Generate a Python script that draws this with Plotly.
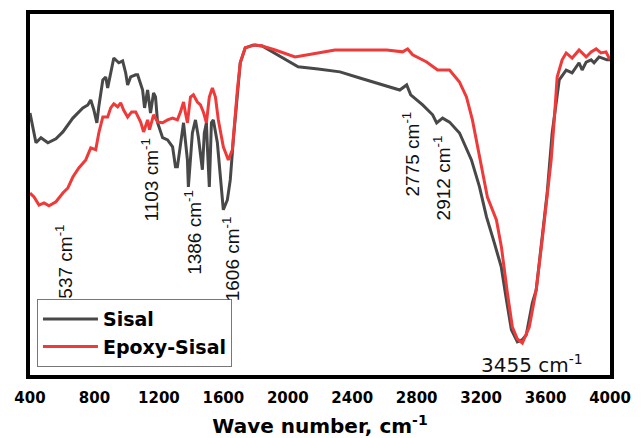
import plotly.graph_objects as go

# Sisal (grey) spectrum: wavenumber (cm-1) and transmittance (a.u.)
sisal_wn = [400, 437, 468, 511, 561, 604, 666, 728, 759, 777, 796, 815, 827, 852, 870, 882,
            901, 920, 951, 975, 994, 1006, 1025, 1056, 1068, 1099, 1111, 1130, 1148, 1167,
            1179, 1192, 1223, 1254, 1285, 1303, 1315, 1334, 1353, 1377, 1383, 1408, 1427,
            1445, 1470, 1482, 1495, 1501, 1513, 1526, 1538, 1563, 1581, 1600, 1625, 1643,
            1662, 1687, 1705, 1736, 1786, 1841, 1860, 1965, 2064, 2188, 2293, 2324, 2447,
            2571, 2695, 2738, 2763, 2800, 2837, 2899, 2924, 2961, 3004, 3066, 3109, 3140,
            3190, 3233, 3282, 3325, 3357, 3388, 3425, 3456, 3480, 3518, 3542, 3579, 3610,
            3641, 3685, 3728, 3765, 3808, 3827, 3852, 3883, 3901, 3932, 3981, 4000]
sisal_t = [72.5, 64.3, 65.7, 64.3, 65.4, 67.3, 71.1, 73.9, 74.7, 76.1, 73.4, 69.8, 74.2, 81.6,
           82.4, 79.4, 83.5, 87.6, 86.3, 86.8, 83.5, 80.2, 82.4, 83.0, 83.0, 78.8, 73.9, 78.8,
           72.5, 78.0, 76.9, 69.8, 65.7, 65.1, 63.2, 57.7, 57.7, 64.3, 69.8, 59.6, 52.2, 67.0,
           70.6, 65.9, 56.9, 67.0, 69.8, 63.2, 52.2, 69.8, 70.6, 64.3, 56.0, 45.9, 48.6, 54.1,
           65.1, 78.8, 86.3, 90.4, 91.2, 90.9, 90.4, 87.6, 85.2, 84.6, 84.1, 83.8, 82.1, 80.5,
           78.8, 80.2, 77.5, 76.1, 74.7, 72.0, 69.8, 71.1, 70.0, 67.0, 62.4, 59.6, 52.2, 44.0,
           36.8, 30.2, 21.2, 12.9, 9.6, 10.2, 11.5, 20.3, 23.9, 37.6, 50.5, 67.0, 81.6, 84.3,
           83.5, 86.3, 84.3, 86.5, 87.1, 86.3, 87.9, 87.1, 87.1]

# Epoxy-Sisal (red) spectrum
epoxy_wn = [400, 425, 456, 487, 518, 561, 604, 635, 666, 703, 746, 777, 808, 827, 852, 882,
            901, 920, 944, 963, 981, 1006, 1031, 1056, 1087, 1105, 1130, 1142, 1167, 1192,
            1223, 1254, 1285, 1315, 1334, 1353, 1365, 1377, 1396, 1414, 1439, 1458, 1476,
            1495, 1513, 1532, 1551, 1569, 1600, 1631, 1656, 1674, 1687, 1705, 1736, 1798,
            1841, 1922, 2045, 2151, 2293, 2386, 2614, 2713, 2744, 2775, 2862, 2930, 3004,
            3066, 3109, 3146, 3196, 3239, 3295, 3326, 3363, 3394, 3425, 3456, 3499, 3542,
            3579, 3610, 3635, 3654, 3672, 3703, 3728, 3765, 3808, 3852, 3883, 3914, 3944,
            3975, 4000]
epoxy_t = [50.5, 49.4, 47.2, 47.8, 47.0, 48.1, 50.5, 51.9, 54.9, 57.4, 59.6, 62.9, 62.4, 67.0,
           71.4, 71.4, 73.9, 75.0, 74.2, 75.3, 73.3, 71.4, 72.8, 72.8, 70.0, 67.3, 70.6, 67.9,
           72.0, 70.0, 69.8, 70.6, 71.1, 70.6, 72.8, 75.5, 72.5, 69.8, 76.9, 77.5, 75.5, 74.7,
           72.8, 69.8, 76.9, 79.4, 76.9, 70.6, 63.2, 59.6, 62.4, 72.5, 78.8, 86.3, 90.4, 91.2,
           90.9, 89.8, 87.9, 88.7, 89.8, 89.8, 89.8, 89.3, 90.1, 88.5, 86.5, 84.3, 84.3, 81.0,
           76.9, 70.6, 59.6, 49.4, 43.1, 35.7, 23.1, 13.7, 10.4, 9.3, 13.7, 23.9, 37.6, 50.5,
           59.6, 70.6, 82.4, 87.1, 89.0, 87.6, 89.8, 87.9, 89.3, 90.1, 89.0, 89.3, 87.1]

# Peak labels: text, anchor wavenumber, anchor transmittance, rotation
peak_labels = ["537 cm<sup>-1</sup>", "1103 cm<sup>-1</sup>", "1386 cm<sup>-1</sup>",
               "1606 cm<sup>-1</sup>", "2775 cm<sup>-1</sup>", "2912 cm<sup>-1</sup>",
               "3455 cm<sup>-1</sup>"]
label_wn = [610, 1142, 1411, 1650, 2763, 2955, 3518]
label_t = [31.6, 54.1, 39.8, 32.4, 61.3, 54.7, 3.6]
label_angle = [-90, -90, -90, -90, -90, -90, 0]

x_ticks = [400, 800, 1200, 1600, 2000, 2400, 2800, 3200, 3600, 4000]

fig = go.Figure()
fig.add_trace(go.Scatter(x=sisal_wn, y=sisal_t, mode="lines", name="Sisal",
                         line=dict(color="#484848", width=3)))
fig.add_trace(go.Scatter(x=epoxy_wn, y=epoxy_t, mode="lines", name="Epoxy-Sisal",
                         line=dict(color="#ef3a3a", width=3)))

for txt, xv, yv, ang in zip(peak_labels, label_wn, label_t, label_angle):
    fig.add_annotation(x=xv, y=yv, xref="x", yref="y", text=txt, showarrow=False,
                       textangle=ang,
                       font=dict(family="Liberation Sans" if ang else "DejaVu Sans",
                                 size=19 if ang else 20, color="#111111"))

fig.update_layout(
    width=644, height=438,
    margin=dict(l=30, r=34, t=14, b=63, autoexpand=False),
    paper_bgcolor="white", plot_bgcolor="white",
    showlegend=True,
    legend=dict(x=0.012, y=0.022, xanchor="left", yanchor="bottom",
                bordercolor="#777777", borderwidth=1, bgcolor="white",
                font=dict(family="DejaVu Sans", size=19, color="black", weight="bold"),
                itemwidth=55, tracegroupgap=0),
    xaxis=dict(range=[400, 4000], tickvals=x_ticks, ticktext=[str(v) for v in x_ticks],
               automargin=False,
               showgrid=False, zeroline=False, showline=True, linecolor="black",
               linewidth=4, mirror=True, ticks="outside", ticklen=6, tickcolor="white",
               tickfont=dict(family="DejaVu Sans", size=15, color="black", weight="bold"),
               title=dict(text="Wave number, cm<sup>-1</sup>", standoff=20,
                          font=dict(family="DejaVu Sans", size=20, color="black",
                                    weight="bold"))),
    yaxis=dict(range=[0.5, 99.7], showticklabels=False, showgrid=False, zeroline=False,
               automargin=False,
               showline=True, linecolor="black", linewidth=4, mirror=True, ticks=""),
)

fig.write_html("out.html")
